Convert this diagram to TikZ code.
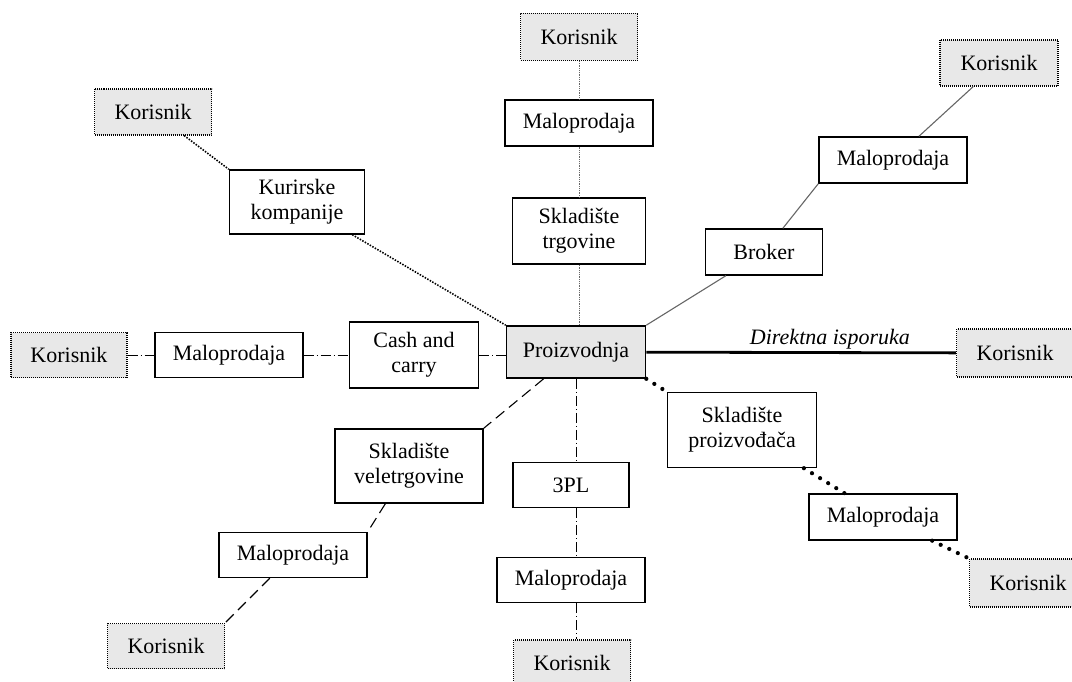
\documentclass[tikz,border=0pt]{standalone}
\usepackage{fontspec}
\setmainfont{Liberation Serif}
\definecolor{korfill}{RGB}{232,232,232}
\definecolor{prodfill}{RGB}{230,230,230}
\begin{document}
\begin{tikzpicture}[x=1pt,y=-1pt,
  every node/.style={font=\fontsize{22}{25}\selectfont, align=center, inner sep=0pt},
  sz/.style 2 args={minimum width=#1pt, minimum height=#2pt},
  box/.style={draw, line width=1.4pt, fill=white},
  kor/.style={draw, dash pattern=on 1pt off 1pt, line width=1.1pt, fill=korfill},
  prod/.style={draw, line width=1.6pt, fill=prodfill},
  ltop/.style={draw=black!60, line width=0.9pt, dash pattern=on 0.9pt off 0.9pt},
  lkur/.style={line width=1.6pt, dash pattern=on 1.5pt off 1.4pt},
  ldd/.style={line width=0.9pt, dash pattern=on 10pt off 3pt on 1pt off 3pt},
  ldash/.style={line width=1.1pt, dash pattern=on 11pt off 6pt},
  lgray/.style={draw=black!60, line width=1.1pt},
  ldir/.style={line width=2.8pt},
  lbig/.style={line width=4.2pt, line cap=round, dash pattern=on 0pt off 9.5pt}
]
\useasboundingbox (0,0) rectangle (1072,682);

% centre
\node[prod, sz={139}{52}] (P) at (576,352) {Proizvodnja};

% top column
\node[kor, sz={117}{47}] (K1) at (579,37) {Korisnik};
\node[box, sz={148}{46}] (M1) at (579,123) {Maloprodaja};
\node[box, sz={133}{66}] (ST) at (579,231) {Skladište\\trgovine};

% top-right branch
\node[box, sz={117}{46}] (B) at (764,252) {Broker};
\node[box, sz={148}{46}] (M2) at (893,160) {Maloprodaja};
\node[kor, sz={118}{46}] (K2) at (999,63) {Korisnik};

% right
\node[kor, sz={117}{48}] (K3) at (1015,353) {Korisnik};

% lower-right branch
\node[box, sz={149}{75}] (SP) at (742,430) {Skladište\\proizvođača};
\node[box, sz={148}{46}] (M3) at (883,517) {Maloprodaja};
\node[kor, sz={117}{48}] (K4) at (1028,583) {Korisnik};

% bottom column
\node[box, sz={116}{45}] (T) at (571,485) {3PL};
\node[box, sz={148}{45}] (M4) at (571,580) {Maloprodaja};
\node[kor, sz={117}{46}] (K5) at (572,663) {Korisnik};

% lower-left branch
\node[box, sz={148}{74}] (SV) at (409,466) {Skladište\\veletrgovine};
\node[box, sz={148}{45}] (M5) at (293,555) {Maloprodaja};
\node[kor, sz={117}{45}] (K6) at (166,646) {Korisnik};

% left row
\node[box, sz={129}{66}] (CC) at (414,355) {Cash and\\carry};
\node[box, sz={148}{45}] (M6) at (229,355) {Maloprodaja};
\node[kor, sz={116}{45}] (K7) at (69,355) {Korisnik};

% upper-left branch
\node[box, sz={135}{64}] (KK) at (297,202) {Kurirske\\kompanije};
\node[kor, sz={117}{46}] (K8) at (153,112) {Korisnik};

% connectors
\draw[ltop] (K1) -- (M1);
\draw[ltop] (M1) -- (ST);
\draw[ltop] (ST.south) -- (ST.south |- P.north);

\draw[lgray] (P.north east) -- (B);
\draw[lgray] (B) -- (M2.south west);
\draw[lgray] (M2) -- (K2);

\draw[ldir] (P) -- (K3) node[pos=0.593, above=2pt, font=\fontsize{22}{25}\selectfont\itshape] (lbl) {Direktna isporuka};

\draw[lbig] (P.south east) -- (SP.north west);
\draw[lbig] (SP) -- (M3);
\draw[lbig] (M3) -- (K4.north west);

\draw[ldd] (P.south) -- (P.south |- T.north);
\draw[ldd] (P.south |- T.south) -- (P.south |- M4.north);
\draw[ldd] (P.south |- M4.south) -- (P.south |- K5.north);

\draw[ldash] (P) -- (SV.north east);
\draw[ldash] (SV) -- (M5.north east);
\draw[ldash] (M5) -- (K6.north east);

\draw[ldd] (K7) -- (M6);
\draw[ldd] (M6) -- (CC);
\draw[ldd] (CC.east) -- (CC.east -| P.west);

\draw[lkur] (K8) -- (KK.north west);
\draw[lkur] (KK) -- (P.north west);
\end{tikzpicture}
\end{document}
